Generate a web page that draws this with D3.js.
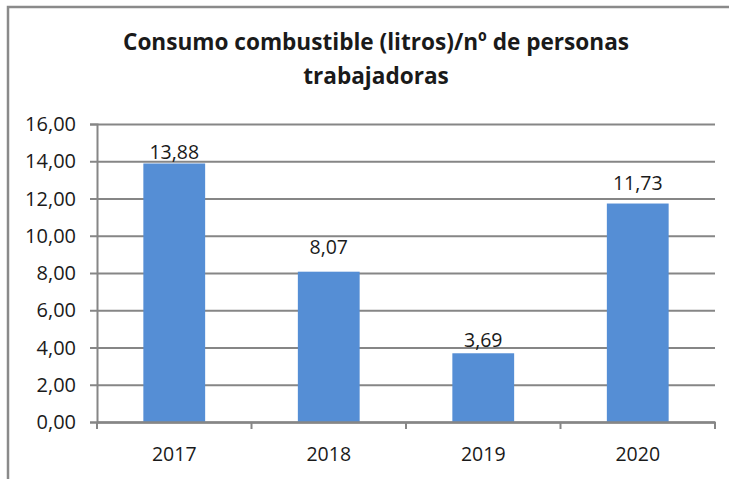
<!DOCTYPE html>
<html>
<head>
<meta charset="utf-8">
<script src="https://cdn.jsdelivr.net/npm/d3@7"></script>
<style>
  body { margin: 0; background: #fff; }
  text { font-family: "Open Sans", sans-serif; fill: #1a1a1a; }
</style>
</head>
<body>
<script>
var years = ['2017', '2018', '2019', '2020'];
var values = [13.88, 8.07, 3.69, 11.73];
var yTicks = [0, 2, 4, 6, 8, 10, 12, 14, 16];
var titleLines = ['Consumo combustible (litros)/nº de personas', 'trabajadoras'];

// how far each label sits above its bar (Excel nudged them differently)
var labelLift = [4, 18, 6, 14];

var w = 729,
  h = 479;

var svg = d3.select('body').append('svg')
  .attr('width', w)
  .attr('height', h);

// chart frame
svg.append('rect')
  .attr('x', 8)
  .attr('y', 7)
  .attr('width', 800)
  .attr('height', 600)
  .attr('fill', 'none')
  .attr('stroke', '#8a8a8a')
  .attr('stroke-width', 2.5);

var plotL = 97, plotR = 715, plotT = 124, plotB = 422;

var x = d3.scaleBand()
  .domain(years)
  .range([plotL, plotR])
  .paddingInner(0.6)
  .paddingOuter(0.3);

var y = d3.scaleLinear()
  .domain([0, 16])
  .range([plotB, plotT]);

var fmt = function (d) { return d3.format('.2f')(d).replace('.', ','); };

// gridlines + y axis
var yAxis = svg.append('g')
  .attr('transform', 'translate(' + plotL + ',0)')
  .call(d3.axisLeft(y).tickValues(yTicks).tickSize(7).tickFormat(fmt).tickPadding(14));

yAxis.select('.domain').attr('stroke', '#868686').attr('stroke-width', 2);
yAxis.selectAll('.tick line').attr('stroke', '#868686').attr('stroke-width', 2);
yAxis.selectAll('.tick text')
  .attr('font-size', 20)
  .attr('font-family', '"Open Sans", sans-serif')
  .attr('fill', '#1a1a1a')
  .attr('dy', '0.33em');

yAxis.selectAll('.tick').append('line')
  .attr('x1', 0)
  .attr('x2', plotR - plotL)
  .attr('stroke', '#868686')
  .attr('stroke-width', 2);

// bars
svg.selectAll('.bar')
  .data(values)
  .enter()
  .append('rect')
  .attr('class', 'bar')
  .attr('x', function (d, i) { return x(years[i]); })
  .attr('y', function (d) { return y(d); })
  .attr('width', x.bandwidth())
  .attr('height', function (d) { return y(0) - y(d); })
  .attr('fill', '#558ed5');

// x axis
var xAxis = svg.append('g')
  .attr('transform', 'translate(0,' + plotB + ')')
  .call(d3.axisBottom(x).tickSize(0).tickPadding(25));

xAxis.select('.domain').attr('stroke', '#868686').attr('stroke-width', 2.5);
xAxis.selectAll('.tick text')
  .attr('font-size', 19.5)
  .attr('font-family', '"Open Sans", sans-serif')
  .attr('fill', '#1a1a1a');

var step = x.step();
xAxis.selectAll('.edge')
  .data(d3.range(years.length + 1))
  .enter()
  .append('line')
  .attr('x1', function (i) { return plotL + i * step; })
  .attr('x2', function (i) { return plotL + i * step; })
  .attr('y1', 0)
  .attr('y2', 7)
  .attr('stroke', '#868686')
  .attr('stroke-width', 2);

// data labels
svg.selectAll('.lbl')
  .data(values)
  .enter()
  .append('text')
  .attr('class', 'lbl')
  .attr('x', function (d, i) { return x(years[i]) + x.bandwidth() / 2; })
  .attr('y', function (d, i) { return y(d) - labelLift[i]; })
  .attr('text-anchor', 'middle')
  .attr('font-size', 19.5)
  .text(fmt);

// title, squeezed to mimic Calibri width
var title = svg.selectAll('.title')
  .data(titleLines)
  .enter()
  .append('text')
  .attr('class', 'title')
  .attr('x', 376)
  .attr('y', function (d, i) { return 50 + i * 34; })
  .attr('text-anchor', 'middle')
  .attr('font-size', 24)
  .attr('font-weight', 'bold')
  .attr('fill', '#000')
  .text(function (d) { return d; });

var natural = title.nodes()[0].getComputedTextLength();
var squeeze = 506 / natural;
title.each(function () {
  var len = this.getComputedTextLength();
  d3.select(this)
    .attr('textLength', len * squeeze)
    .attr('lengthAdjust', 'spacingAndGlyphs');
});
</script>
</body>
</html>
